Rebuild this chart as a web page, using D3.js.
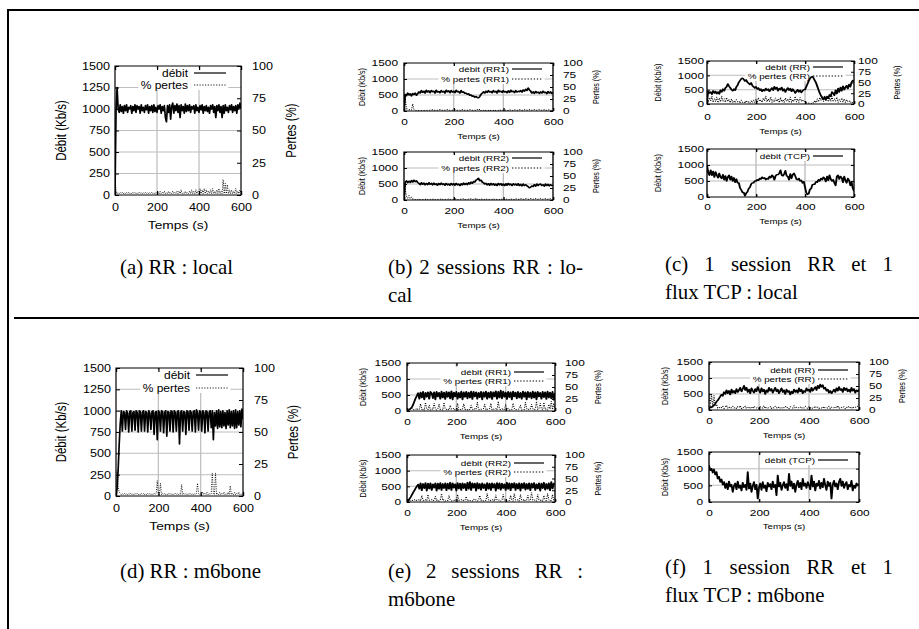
<!DOCTYPE html>
<html>
<head>
<meta charset="utf-8">
<script src="https://cdn.jsdelivr.net/npm/d3@7"></script>
<style>
  body { margin: 0; background: #fff; }
  svg { display: block; }
</style>
</head>
<body>
<svg width="919" height="629"></svg>
<script>
//constants
const step = 5; // seconds between samples
const xTicks = [0, 200, 400, 600];
const yTicksBig = [0, 250, 500, 750, 1000, 1250, 1500];
const yTicksSmall = [0, 500, 1000, 1500];
const y2Ticks = [0, 25, 50, 75, 100];

//data (Kb/s and %), one value every 5 s from 0 to 600 s
const aDebit = [0, 980, 1250, 1000, 960, 1050, 970, 1030, 950, 1040,
  980, 1050, 960, 1020, 1000, 1040, 950, 1030, 980, 1050,
  960, 1040, 1000, 1030, 950, 1050, 980, 1020, 960, 1040,
  990, 1050, 950, 1030, 980, 1040, 960, 1050, 970, 1020,
  960, 1040, 1000, 1050, 950, 1030, 980, 1040, 900, 850,
  1040, 960, 1050, 880, 1030, 1070, 950, 1040, 980, 1060,
  960, 1040, 900, 1050, 980, 1030, 950, 1060, 970, 1040,
  980, 1050, 960, 1030, 1000, 1040, 950, 1050, 980, 1020,
  960, 1040, 990, 1050, 950, 1030, 980, 1040, 970, 1020,
  950, 1040, 1000, 1050, 960, 1030, 900, 1040, 980, 1050,
  960, 1030, 900, 1040, 950, 1050, 980, 1020, 960, 1040,
  990, 1050, 960, 1030, 980, 1040, 950, 1050, 1000, 1070,
  1000];
const aPertes = [15, 3, 1, 2, 1, 2, 1, 2, 1, 2,
  1, 2, 1, 2, 1, 2, 1, 2, 1, 2,
  1, 2, 1, 2, 1, 2, 1, 2, 1, 2,
  1, 2, 1, 2, 1, 2, 1, 2, 1, 2,
  1, 2, 1, 3, 1, 2, 1, 3, 1, 2,
  1, 3, 1, 2, 1, 3, 1, 2, 1, 3,
  1, 3, 1, 4, 1, 2, 1, 3, 1, 2,
  1, 3, 1, 4, 1, 3, 1, 4, 1, 3,
  1, 5, 1, 4, 1, 5, 1, 4, 1, 3,
  1, 4, 1, 5, 1, 3, 1, 4, 1, 5,
  1, 3, 1, 12, 1, 9, 1, 8, 1, 4,
  1, 4, 1, 3, 1, 5, 1, 3, 1, 4,
  1];

const b1Debit = [0, 520, 480, 560, 500, 540, 470, 550, 510, 560,
  490, 540, 600, 560, 640, 580, 620, 560, 650, 590,
  630, 570, 640, 600, 620, 560, 650, 590, 610, 570,
  640, 590, 620, 560, 650, 600, 630, 570, 640, 590,
  620, 570, 650, 600, 610, 560, 640, 580, 600, 550,
  560, 520, 540, 490, 500, 460, 470, 430, 450, 420,
  410, 450, 520, 560, 600, 560, 620, 580, 640, 590,
  610, 570, 640, 590, 620, 560, 650, 600, 620, 580,
  640, 590, 610, 570, 630, 580, 650, 600, 620, 570,
  640, 590, 620, 600, 640, 590, 660, 620, 680, 640,
  720, 660, 620, 560, 600, 550, 610, 570, 590, 550,
  600, 560, 620, 570, 590, 540, 610, 560, 600, 550,
  580];
const b1Pertes = [2, 25, 5, 3, 2, 4, 2, 15, 3, 2,
  1, 2, 1, 2, 1, 2, 1, 2, 1, 2,
  1, 2, 1, 3, 1, 2, 1, 2, 1, 3,
  1, 2, 1, 2, 1, 3, 1, 2, 1, 2,
  1, 3, 1, 2, 1, 2, 1, 3, 1, 2,
  1, 2, 1, 3, 1, 2, 1, 2, 1, 3,
  1, 4, 1, 2, 1, 3, 1, 2, 1, 3,
  1, 2, 1, 3, 1, 2, 1, 3, 1, 2,
  1, 3, 1, 2, 1, 3, 1, 2, 1, 3,
  1, 2, 1, 3, 1, 2, 1, 3, 1, 2,
  1, 3, 1, 2, 1, 3, 1, 2, 1, 3,
  1, 2, 1, 3, 1, 2, 1, 3, 1, 2,
  1];

const b2Debit = [0, 560, 600, 540, 590, 550, 610, 560, 620, 570,
  600, 550, 520, 480, 540, 490, 530, 470, 520, 480,
  540, 490, 520, 470, 530, 480, 510, 460, 520, 480,
  530, 480, 510, 460, 520, 470, 500, 460, 520, 470,
  510, 460, 520, 470, 500, 450, 510, 470, 530, 480,
  520, 480, 540, 500, 560, 520, 580, 560, 620, 640,
  680, 600, 620, 560, 540, 500, 520, 470, 510, 460,
  520, 470, 510, 460, 500, 450, 520, 470, 510, 460,
  500, 450, 510, 460, 520, 470, 500, 450, 510, 470,
  500, 460, 510, 450, 490, 440, 500, 450, 480, 440,
  420, 380, 400, 440, 420, 480, 430, 500, 450, 490,
  500, 450, 480, 430, 500, 450, 490, 440, 480, 450,
  470];
const b2Pertes = [2, 22, 8, 4, 9, 3, 6, 2, 3, 1,
  2, 1, 3, 1, 2, 1, 2, 1, 3, 1,
  2, 1, 2, 1, 3, 1, 2, 1, 2, 1,
  3, 1, 2, 1, 2, 1, 3, 1, 2, 1,
  2, 1, 3, 1, 2, 1, 2, 1, 3, 1,
  2, 1, 2, 1, 3, 1, 2, 1, 4, 1,
  2, 1, 3, 1, 2, 1, 3, 1, 2, 1,
  2, 1, 3, 1, 2, 1, 2, 1, 3, 1,
  2, 1, 3, 1, 2, 1, 3, 1, 2, 1,
  3, 1, 2, 1, 3, 1, 2, 1, 3, 1,
  2, 1, 3, 1, 2, 1, 3, 1, 2, 1,
  3, 1, 2, 1, 3, 1, 2, 1, 3, 1,
  2];

const c1Debit = [100, 450, 380, 420, 340, 460, 380, 440, 360, 420,
  350, 480, 420, 520, 460, 560, 600, 700, 620, 560,
  500, 460, 520, 480, 600, 660, 760, 820, 880, 900,
  860, 800, 840, 760, 720, 680, 740, 640, 600, 560,
  600, 520, 560, 480, 520, 440, 500, 460, 540, 480,
  520, 440, 500, 560, 480, 600, 520, 580, 460, 540,
  500, 580, 460, 520, 420, 500, 560, 480, 540, 440,
  520, 460, 380, 440, 500, 420, 480, 400, 460, 500,
  500, 600, 700, 800, 880, 940, 960, 900, 820, 740,
  620, 500, 380, 300, 220, 160, 240, 150, 260, 200,
  320, 260, 420, 380, 300, 480, 360, 540, 420, 580,
  460, 620, 500, 580, 640, 540, 680, 600, 760, 820,
  780];
const c1Pertes = [20, 5, 15, 8, 18, 4, 12, 6, 16, 3,
  14, 5, 18, 7, 12, 4, 15, 6, 10, 3,
  12, 4, 8, 3, 10, 5, 7, 2, 9, 4,
  6, 2, 8, 3, 5, 2, 7, 3, 9, 4,
  12, 5, 15, 6, 10, 4, 14, 7, 18, 5,
  12, 6, 16, 4, 10, 5, 14, 6, 12, 3,
  15, 5, 10, 4, 14, 6, 12, 5, 16, 4,
  10, 6, 18, 5, 12, 4, 15, 6, 10, 5,
  6, 2, 4, 2, 3, 1, 4, 2, 8, 3,
  12, 5, 15, 8, 18, 6, 20, 8, 16, 5,
  14, 6, 18, 5, 12, 7, 16, 4, 10, 6,
  14, 5, 12, 4, 10, 6, 8, 3, 6, 2,
  4];
const c2Debit = [1000, 760, 680, 840, 680, 800, 620, 780, 680, 600,
  740, 620, 580, 700, 540, 660, 500, 620, 680, 540,
  640, 500, 600, 460, 560, 440, 440, 280, 220, 140,
  140, 40, 120, 160, 260, 300, 400, 440, 440, 500,
  500, 540, 520, 580, 560, 620, 580, 600, 540, 580,
  560, 640, 600, 680, 640, 540, 660, 700, 700, 740,
  840, 680, 660, 720, 820, 660, 640, 540, 720, 580,
  700, 740, 660, 560, 540, 580, 500, 520, 440, 480,
  320, 140, 80, 100, 240, 260, 380, 400, 400, 480,
  460, 540, 500, 580, 540, 620, 580, 480, 640, 520,
  680, 560, 500, 540, 440, 360, 640, 680, 560, 640,
  600, 460, 640, 520, 440, 580, 520, 360, 480, 280,
  180];

const dDebit = [0, 80, 300, 600, 850, 1000, 760, 990, 980, 780,
  1000, 970, 750, 990, 1000, 760, 980, 990, 770, 1000,
  980, 750, 1000, 990, 760, 980, 1000, 760, 990, 980,
  750, 1000, 970, 780, 990, 1000, 720, 980, 990, 660,
  1000, 980, 760, 1000, 990, 740, 980, 1000, 700, 990,
  980, 760, 1000, 990, 750, 1000, 980, 760, 990, 1000,
  610, 980, 1000, 760, 990, 980, 720, 1000, 990, 770,
  1000, 980, 760, 990, 1000, 750, 1010, 980, 770, 1000,
  990, 760, 1000, 980, 740, 1000, 990, 760, 980, 1000,
  800, 1000, 660, 980, 820, 1000, 790, 1010, 810, 990,
  800, 1000, 820, 980, 790, 1000, 830, 1010, 800, 990,
  820, 1000, 790, 1010, 800, 990, 830, 1000, 810, 1020,
  900];
const dPertes = [5, 20, 8, 3, 2, 1, 2, 1, 2, 1,
  2, 1, 2, 1, 2, 1, 2, 1, 2, 1,
  2, 1, 2, 1, 2, 1, 2, 1, 2, 1,
  2, 1, 2, 1, 2, 1, 2, 1, 2, 12,
  2, 1, 10, 1, 2, 1, 2, 1, 2, 1,
  2, 1, 2, 1, 2, 1, 2, 1, 2, 1,
  2, 1, 9, 1, 2, 1, 2, 1, 2, 1,
  2, 1, 2, 1, 2, 1, 2, 10, 2, 1,
  2, 1, 3, 1, 2, 1, 3, 1, 2, 1,
  2, 18, 2, 1, 18, 1, 2, 1, 3, 1,
  2, 1, 3, 1, 2, 1, 3, 1, 8, 1,
  2, 1, 3, 1, 2, 1, 3, 1, 2, 1,
  2];

const e1Debit = [0, 20, 50, 80, 120, 200, 300, 400, 480, 560,
  380, 580, 420, 600, 360, 570, 440, 590, 380, 600,
  560, 400, 590, 360, 600, 450, 570, 380, 610, 420,
  580, 370, 600, 440, 590, 390, 620, 360, 580, 450,
  600, 380, 570, 420, 610, 360, 590, 440, 600, 390,
  580, 420, 610, 370, 600, 450, 590, 380, 570, 430,
  600, 360, 590, 440, 610, 380, 580, 420, 600, 370,
  590, 450, 620, 380, 600, 420, 640, 390, 610, 440,
  580, 370, 600, 430, 590, 360, 610, 450, 580, 390,
  600, 420, 570, 380, 610, 440, 590, 360, 600, 430,
  580, 390, 610, 420, 590, 360, 600, 450, 570, 380,
  600, 430, 590, 370, 610, 420, 580, 390, 600, 350,
  560];
const e1Pertes = [0, 2, 4, 3, 5, 2, 4, 3, 6, 2,
  4, 15, 3, 5, 2, 18, 4, 3, 12, 2,
  5, 3, 16, 4, 2, 5, 14, 3, 4, 2,
  18, 4, 3, 5, 2, 12, 4, 3, 6, 2,
  4, 16, 3, 5, 2, 4, 15, 3, 4, 2,
  5, 3, 12, 4, 2, 5, 3, 18, 4, 2,
  4, 3, 5, 14, 2, 4, 3, 5, 16, 2,
  4, 3, 5, 2, 20, 4, 3, 5, 2, 4,
  14, 3, 5, 2, 4, 3, 16, 5, 2, 4,
  3, 5, 12, 2, 4, 3, 18, 5, 2, 4,
  3, 14, 5, 2, 4, 20, 3, 5, 16, 4,
  2, 18, 3, 5, 2, 14, 4, 20, 3, 16,
  4];
const e2Debit = [0, 40, 100, 160, 230, 300, 370, 440, 500, 560,
  420, 600, 370, 580, 440, 610, 360, 590, 430, 600,
  380, 570, 450, 600, 360, 590, 420, 610, 380, 580,
  440, 600, 370, 590, 420, 620, 380, 600, 450, 570,
  360, 610, 430, 590, 380, 600, 440, 580, 370, 620,
  420, 640, 380, 600, 450, 590, 360, 610, 430, 580,
  390, 600, 440, 570, 370, 610, 420, 590, 380, 600,
  450, 580, 360, 610, 430, 600, 390, 590, 440, 570,
  380, 620, 420, 600, 370, 590, 450, 610, 380, 580,
  430, 600, 360, 590, 440, 610, 390, 580, 420, 600,
  370, 590, 450, 610, 380, 570, 430, 600, 360, 590,
  440, 620, 390, 580, 420, 600, 370, 640, 430, 590,
  560];
const e2Pertes = [0, 1, 3, 2, 4, 3, 5, 2, 4, 3,
  6, 2, 14, 4, 3, 5, 2, 16, 4, 3,
  5, 2, 4, 12, 3, 5, 2, 4, 18, 3,
  5, 2, 4, 3, 14, 5, 2, 4, 3, 6,
  2, 16, 4, 3, 5, 2, 4, 3, 12, 2,
  5, 3, 4, 2, 6, 3, 5, 2, 4, 14,
  3, 5, 2, 4, 3, 18, 5, 2, 4, 3,
  6, 2, 15, 4, 3, 5, 2, 4, 16, 3,
  5, 2, 4, 3, 14, 5, 2, 18, 4, 3,
  5, 2, 16, 4, 3, 6, 2, 4, 14, 3,
  5, 20, 4, 3, 5, 2, 16, 4, 3, 5,
  2, 14, 4, 3, 18, 5, 2, 4, 16, 3,
  5];

const f1Debit = [60, 100, 80, 120, 150, 200, 260, 300, 360, 420,
  480, 440, 560, 500, 620, 520, 600, 480, 640, 540,
  600, 520, 660, 560, 620, 700, 580, 660, 760, 620,
  700, 560, 640, 520, 680, 600, 540, 660, 580, 720,
  620, 540, 680, 580, 640, 500, 620, 560, 700, 600,
  660, 540, 620, 700, 580, 640, 520, 600, 680, 560,
  620, 500, 640, 560, 600, 480, 580, 520, 640, 560,
  620, 540, 680, 580, 640, 520, 600, 560, 680, 600,
  640, 560, 700, 600, 660, 720, 620, 760, 680, 800,
  720, 780, 660, 700, 600, 640, 540, 600, 520, 580,
  640, 560, 680, 600, 720, 620, 660, 560, 700, 620,
  680, 580, 640, 560, 700, 600, 660, 540, 620, 580,
  640];
const f1Pertes = [35, 10, 33, 5, 30, 8, 12, 4, 6, 3,
  5, 8, 3, 6, 10, 4, 7, 3, 5, 8,
  4, 6, 3, 7, 5, 9, 3, 6, 4, 8,
  3, 5, 7, 4, 6, 3, 8, 5, 4, 6,
  3, 7, 5, 4, 9, 3, 6, 4, 5, 7,
  3, 6, 4, 8, 5, 3, 7, 4, 6, 3,
  5, 8, 4, 6, 3, 7, 5, 4, 9, 3,
  6, 4, 5, 7, 3, 6, 4, 8, 5, 3,
  7, 4, 6, 3, 5, 8, 4, 6, 3, 5,
  4, 7, 3, 6, 5, 4, 8, 3, 6, 4,
  5, 7, 4, 9, 3, 6, 5, 4, 7, 3,
  6, 4, 8, 5, 3, 7, 4, 6, 5, 8,
  4];
const f2Debit = [1100, 950, 1000, 880, 980, 820, 900, 700, 760, 600,
  680, 520, 600, 420, 560, 380, 620, 460, 520, 300,
  480, 560, 380, 620, 420, 500, 340, 580, 440, 520,
  360, 900, 400, 560, 300, 480, 600, 380, 520, 100,
  440, 560, 360, 600, 420, 500, 320, 580, 460, 540,
  380, 620, 440, 520, 200, 800, 460, 580, 360, 500,
  600, 420, 540, 350, 850, 480, 620, 400, 560, 300,
  520, 640, 440, 580, 380, 700, 480, 560, 420, 600,
  500, 380, 800, 460, 620, 340, 560, 480, 640, 400,
  580, 440, 700, 500, 360, 620, 480, 580, 100, 520,
  640, 460, 560, 380, 600, 700, 480, 620, 420, 540,
  600, 380, 520, 460, 640, 340, 500, 420, 560, 520,
  500];

//legend texts
const legendA = ["débit", "% pertes"];
const legendB1 = ["débit (RR1)", "% pertes (RR1)"];
const legendB2 = ["débit (RR2)", "% pertes (RR2)"];
const legendC1 = ["débit (RR)", "% pertes (RR)"];
const legendC2 = ["débit (TCP)"];

//captions
const captionText = [
  ["(a) RR : local"],
  ["(b) 2 sessions RR : lo-", "cal"],
  ["(c) 1 session RR et 1", "flux TCP : local"],
  ["(d) RR : m6bone"],
  ["(e) 2 sessions RR :", "m6bone"],
  ["(f) 1 session RR et 1", "flux TCP : m6bone"]
];

const FONT = "'Liberation Sans', Arial, Helvetica, sans-serif";
const SERIF = "'Liberation Serif', 'Times New Roman', serif";

//styles of the two kinds of gnuplot panels
const bigStyle = {sx: 1.2, tickFont: 10.5, titleFont: 11.5, legFont: 10, tick: 4,
  leftPad: 5, rightPad: 11, xLab: 12, tempsOff: 30, ylabOff: 53, y2labOff: 51,
  legEnd: 15, legLen: 32, legGap: 6, yTicks: yTicksBig};
const smallStyle = {sx: 1.35, tickFont: 8.8, titleFont: 7.2, legFont: 7.3, tick: 3,
  leftPad: 6, rightPad: 10, xLab: 11, tempsOff: 25, ylabOff: 44, y2labOff: 43,
  legEnd: 11, legLen: 30, legGap: 3, yTicks: yTicksSmall};

const mk = (base, extra) => Object.assign({}, base, extra);
const two = (deb, per, leg) => [
  {values: deb, axis: "y", label: leg[0], dotted: false},
  {values: per, axis: "y2", label: leg[1], dotted: true}
];

const panels = [
  mk(bigStyle, {id: "a", x0: 115, x1: 241, y0: 66, y1: 195, y2Labels: true,
    legRows: [7, 19], series: two(aDebit, aPertes, legendA)}),
  mk(smallStyle, {id: "b1", x0: 404, x1: 553, y0: 63, y1: 111, y2Labels: true,
    legRows: [6, 16], ylabOff: 42, series: two(b1Debit, b1Pertes, legendB1)}),
  mk(smallStyle, {id: "b2", x0: 404, x1: 553, y0: 152, y1: 200, y2Labels: true,
    legRows: [6, 16], ylabOff: 42, series: two(b2Debit, b2Pertes, legendB2)}),
  mk(smallStyle, {id: "c1", x0: 707, x1: 854, y0: 61, y1: 104, y2Labels: true,
    legRows: [6, 15], leftPad: 3, rightPad: 4, ylabOff: 49, xLab: 13, tempsOff: 27,
    series: two(c1Debit, c1Pertes, legendC1)}),
  mk(smallStyle, {id: "c2", x0: 707, x1: 854, y0: 149, y1: 197, y2Labels: false,
    legRows: [7], leftPad: 3, ylabOff: 49, xLab: 10, tempsOff: 24,
    series: [{values: c2Debit, axis: "y", label: legendC2[0], dotted: false}]}),
  mk(bigStyle, {id: "d", x0: 116, x1: 243, y0: 368, y1: 496, y2Labels: true,
    legRows: [7, 20], ylabOff: 54, series: two(dDebit, dPertes, legendA)}),
  mk(smallStyle, {id: "e1", x0: 407, x1: 555, y0: 363, y1: 411, y2Labels: true,
    legRows: [9, 18], series: two(e1Debit, e1Pertes, legendB1)}),
  mk(smallStyle, {id: "e2", x0: 407, x1: 555, y0: 455, y1: 502, y2Labels: true,
    legRows: [8, 17], series: two(e2Debit, e2Pertes, legendB2)}),
  mk(smallStyle, {id: "f1", x0: 709, x1: 859, y0: 362, y1: 410, y2Labels: true,
    legRows: [8, 17], series: two(f1Debit, f1Pertes, legendC1)}),
  mk(smallStyle, {id: "f2", x0: 709, x1: 859, y0: 452, y1: 502, y2Labels: false,
    legRows: [8], tempsOff: 24,
    series: [{values: f2Debit, axis: "y", label: legendC2[0], dotted: false}]})
];

const captionPos = [
  {x: 120, y: 274},
  {x: 388, y: 274, width: 195},
  {x: 665, y: 271, width: 228},
  {x: 120, y: 578},
  {x: 388, y: 578, width: 195},
  {x: 665, y: 574, width: 228}
];
const captionScaleX = 0.95;

let svg = d3.select("svg");

//frame
svg.append("path")
  .attr("d", "M8,629V10H919")
  .attr("fill", "none")
  .attr("stroke", "#000")
  .attr("stroke-width", 2);
svg.append("line")
  .attr("x1", 14).attr("x2", 919)
  .attr("y1", 318).attr("y2", 318)
  .attr("stroke", "#000")
  .attr("stroke-width", 2);

function styleAxis(sel, fs) {
  sel.select(".domain").remove();
  sel.attr("font-family", FONT).attr("font-size", fs);
  sel.selectAll(".tick line").attr("stroke", "#000").attr("stroke-width", 1);
  sel.selectAll(".tick text").attr("fill", "#000");
}

function drawPanel(p) {
  const sx = p.sx;
  const w = (p.x1 - p.x0) / sx;
  const h = p.y1 - p.y0;
  const g = svg.append("g")
    .attr("transform", "translate(" + p.x0 + "," + p.y0 + ") scale(" + sx + ",1)");

  //scales
  const x = d3.scaleLinear().domain([0, 600]).range([0, w]);
  const y = d3.scaleLinear().domain([0, 1500]).range([h, 0]);
  const y2 = d3.scaleLinear().domain([0, 100]).range([h, 0]);

  g.append("clipPath").attr("id", "clip-" + p.id)
    .append("rect").attr("width", w).attr("height", h);

  //grid
  const grid = g.append("g").attr("stroke", "#bdbdbd").attr("stroke-width", 1);
  grid.selectAll(".gy").data(p.yTicks.filter(v => v > 0 && v < 1500)).join("line")
    .attr("class", "gy")
    .attr("x1", 0).attr("x2", w)
    .attr("y1", d => y(d)).attr("y2", d => y(d));
  grid.selectAll(".gx").data(xTicks.filter(v => v > 0 && v < 600)).join("line")
    .attr("class", "gx")
    .attr("x1", d => x(d)).attr("x2", d => x(d))
    .attr("y1", 0).attr("y2", h);

  //legend background hides the grid, data stays on top
  const bg = g.append("rect").attr("fill", "#fff");

  //series
  const plot = g.append("g").attr("clip-path", "url(#clip-" + p.id + ")");
  p.series.forEach(s => {
    const sc = s.axis === "y2" ? y2 : y;
    const line = d3.line().x((d, i) => x(i * step)).y(d => sc(d));
    plot.append("path")
      .datum(s.values)
      .attr("d", line)
      .attr("fill", "none")
      .attr("stroke", "#000")
      .attr("stroke-width", s.dotted ? 0.8 : 1.4)
      .attr("stroke-dasharray", s.dotted ? "1,1.3" : null)
      .attr("stroke-linejoin", "round");
  });

  //legend
  const lineEnd = w - p.legEnd / sx;
  const lineStart = lineEnd - p.legLen / sx;
  const textEnd = lineStart - p.legGap / sx;
  let maxW = 0;
  p.series.forEach((s, i) => {
    const yy = p.legRows[i];
    const t = g.append("text")
      .attr("x", textEnd).attr("y", yy)
      .attr("text-anchor", "end")
      .attr("dominant-baseline", "central")
      .attr("font-family", FONT)
      .attr("font-size", p.legFont)
      .text(s.label);
    maxW = Math.max(maxW, t.node().getComputedTextLength());
    g.append("line")
      .attr("x1", lineStart).attr("x2", lineEnd)
      .attr("y1", yy).attr("y2", yy)
      .attr("stroke", "#000")
      .attr("stroke-width", s.dotted ? 0.8 : 1.2)
      .attr("stroke-dasharray", s.dotted ? "1,1.3" : null);
  });
  const bx = textEnd - maxW - 2;
  bg.attr("x", bx)
    .attr("y", p.legRows[0] - 5)
    .attr("width", lineEnd + 2 - bx)
    .attr("height", p.legRows[p.legRows.length - 1] - p.legRows[0] + 10);

  //axes, gnuplot style ticks pointing inside
  const tk = p.tick;
  const xPad = p.xLab - 0.355 * p.tickFont;
  g.append("g")
    .attr("transform", "translate(0," + h + ")")
    .call(d3.axisBottom(x).tickValues(xTicks).tickSizeInner(-tk).tickSizeOuter(0)
      .tickPadding(xPad).tickFormat(d3.format("d")))
    .call(styleAxis, p.tickFont);
  g.append("g")
    .call(d3.axisTop(x).tickValues(xTicks).tickSizeInner(-tk).tickSizeOuter(0).tickFormat(""))
    .call(styleAxis, p.tickFont);
  g.append("g")
    .call(d3.axisLeft(y).tickValues(p.yTicks).tickSizeInner(-tk / sx).tickSizeOuter(0)
      .tickPadding(p.leftPad / sx).tickFormat(d3.format("d")))
    .call(styleAxis, p.tickFont);
  const right = p.y2Labels
    ? d3.axisRight(y2).tickValues(y2Ticks).tickFormat(d3.format("d")).tickPadding(p.rightPad / sx)
    : d3.axisRight(y).tickValues(p.yTicks).tickFormat("");
  g.append("g")
    .attr("transform", "translate(" + w + ",0)")
    .call(right.tickSizeInner(-tk / sx).tickSizeOuter(0))
    .call(styleAxis, p.tickFont);

  //border
  g.append("rect")
    .attr("width", w).attr("height", h)
    .attr("fill", "none")
    .attr("stroke", "#000")
    .attr("stroke-width", 1);

  //axes labels
  const label = (txt, tr) => g.append("text")
    .attr("transform", tr)
    .attr("text-anchor", "middle")
    .attr("dominant-baseline", "central")
    .attr("font-family", FONT)
    .attr("font-size", p.titleFont)
    .text(txt);
  label("Temps (s)", "translate(" + (w / 2) + "," + (h + p.tempsOff) + ")");
  label("Débit (Kb/s)", "translate(" + (-p.ylabOff / sx) + "," + (h / 2) + ") rotate(-90)");
  if (p.y2Labels) {
    label("Pertes (%)", "translate(" + (w + p.y2labOff / sx) + "," + (h / 2) + ") rotate(-90)");
  }
}

panels.forEach(drawPanel);

//captions, first line justified when the caption wraps
captionText.forEach((lines, k) => {
  const c = captionPos[k];
  const cg = svg.append("g")
    .attr("transform", "translate(" + c.x + "," + c.y + ") scale(" + captionScaleX + ",1)");
  lines.forEach((txt, li) => {
    const t = cg.append("text")
      .attr("x", 0)
      .attr("y", li * 28)
      .attr("font-family", SERIF)
      .attr("font-size", 22)
      .attr("fill", "#000")
      .text(txt);
    if (c.width && li === 0 && lines.length > 1) {
      const natural = t.node().getComputedTextLength();
      const spaces = (txt.match(/ /g) || []).length;
      t.attr("word-spacing", (c.width / captionScaleX - natural) / spaces);
    }
  });
});
</script>
</body>
</html>
